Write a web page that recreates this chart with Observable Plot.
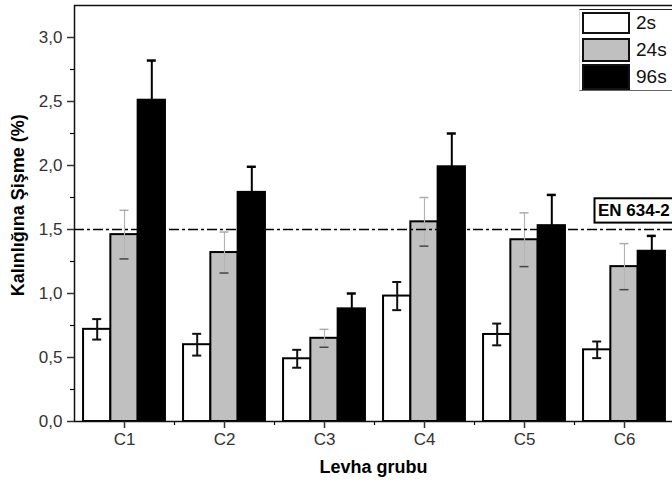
<!DOCTYPE html>
<html>
<head>
<meta charset="utf-8">
<script src="https://cdn.jsdelivr.net/npm/d3@7"></script>
<script src="https://cdn.jsdelivr.net/npm/@observablehq/plot@0.6"></script>
<style>
  html, body { margin: 0; padding: 0; background: #fff; overflow: hidden; }
  #wrap { position: relative; width: 672px; height: 488px; overflow: hidden; }
  #legend { position: absolute; left: 579px; top: 9px; width: 120px; height: 80px;
    border-top: 1px solid #222; border-left: 1px solid #ddd; border-bottom: 1px solid #666;
    font-family: "Liberation Sans", Arial, sans-serif; font-size: 19px; color: #111; }
  .row { position: absolute; left: 2px; height: 24px; display: flex; align-items: center; }
  .sw { width: 48px; border: 2px solid #111; box-sizing: border-box; margin-right: 6px; }
</style>
</head>
<body>
<div id="wrap"><div id="chart"></div><div id="legend"></div></div>
<script>
const categories = ["C1", "C2", "C3", "C4", "C5", "C6"];
const series = ["2s", "24s", "96s"];
const colors = ["#ffffff", "#c0c0c0", "#000000"];
const v2  = [0.72, 0.60, 0.49, 0.98, 0.68, 0.56];
const e2  = [0.08, 0.085, 0.07, 0.11, 0.085, 0.065];
const v24 = [1.46, 1.32, 0.65, 1.56, 1.42, 1.21];
const e24 = [0.19, 0.16, 0.07, 0.19, 0.21, 0.18];
const v96 = [2.51, 1.79, 0.88, 1.99, 1.53, 1.33];
const e96 = [0.31, 0.20, 0.12, 0.26, 0.24, 0.12];
const yTicks = [0, 0.5, 1.0, 1.5, 2.0, 2.5, 3.0];
const yMinor = [0.25, 0.75, 1.25, 1.75, 2.25, 2.75];
const refValue = 1.5;
const refLabel = "EN 634-2";
const yTitle = "Kalınlığına Şişme (%)";
const xTitle = "Levha grubu";

const values = [v2, v24, v96];
const errors = [e2, e24, e96];
const barW = 0.273;
const data = [];
series.forEach((s, k) => {
  categories.forEach((c, i) => {
    data.push({cat: c, series: s, k, pos: i + 1 + (k - 1) * barW, value: values[k][i], err: errors[k][i]});
  });
});

const fmt = d => d.toFixed(1).replace(".", ",");
const font = "Liberation Sans, Arial, sans-serif";
const cap = 0.045;

const chart = Plot.plot({
  width: 672, height: 488,
  marginLeft: 74, marginRight: 0, marginTop: 5, marginBottom: 67,
  style: {fontFamily: font, background: "white"},
  x: {type: "linear", domain: [0.5, 6.48]},
  y: {domain: [0, 3.25]},
  marks: [
    Plot.rect(data, {x1: d => d.pos - barW / 2, x2: d => d.pos + barW / 2, y1: 0, y2: "value",
      fill: d => colors[d.k], stroke: "#000", strokeWidth: 2}),
    // 2s error bars
    Plot.ruleX(data.filter(d => d.k === 0), {x: "pos", y1: d => d.value - d.err, y2: d => d.value + d.err, stroke: "#111", strokeWidth: 2}),
    Plot.ruleY(data.filter(d => d.k === 0), {y: d => d.value + d.err, x1: d => d.pos - cap, x2: d => d.pos + cap, stroke: "#111", strokeWidth: 2}),
    Plot.ruleY(data.filter(d => d.k === 0), {y: d => d.value - d.err, x1: d => d.pos - cap, x2: d => d.pos + cap, stroke: "#111", strokeWidth: 2}),
    // 24s error bars (grey, faint)
    Plot.ruleX(data.filter(d => d.k === 1), {x: "pos", y1: d => d.value - d.err, y2: d => d.value + d.err, stroke: "#b4b4b4", strokeWidth: 1.2}),
    Plot.ruleY(data.filter(d => d.k === 1), {y: d => d.value + d.err, x1: d => d.pos - cap, x2: d => d.pos + cap, stroke: "#acacac", strokeWidth: 1.5}),
    Plot.ruleY(data.filter(d => d.k === 1), {y: d => d.value - d.err, x1: d => d.pos - cap, x2: d => d.pos + cap, stroke: "#444", strokeWidth: 1.5}),
    // 96s error bars (upper only)
    Plot.ruleX(data.filter(d => d.k === 2), {x: "pos", y1: "value", y2: d => d.value + d.err, stroke: "#000", strokeWidth: 2}),
    Plot.ruleY(data.filter(d => d.k === 2), {y: d => d.value + d.err, x1: d => d.pos - cap, x2: d => d.pos + cap, stroke: "#000", strokeWidth: 2.5}),
    // reference line
    Plot.ruleY([refValue], {stroke: "#000", strokeWidth: 1.6, strokeDasharray: "10,3,3,3"}),
    Plot.rect([refLabel], {x1: 5.705, x2: 6.7, y1: refValue + 0.05, y2: refValue + 0.24, fill: "white", stroke: "#000", strokeWidth: 2}),
    Plot.text([refLabel], {x: 5.735, y: refValue + 0.145, text: d => d, textAnchor: "start", fontWeight: "bold", fontSize: 17, fill: "#000"}),
    // frame
    Plot.ruleY([0], {stroke: "#111", strokeWidth: 1.5}),
    Plot.ruleY([3.25], {stroke: "#111", strokeWidth: 1.5}),
    Plot.ruleX([0.5], {stroke: "#111", strokeWidth: 1.5}),
    // axes
    Plot.axisY({ticks: yTicks, tickFormat: fmt, tickSize: 7, tickPadding: 5, fontSize: 17, color: "#333", strokeWidth: 1.5, label: null}),
    Plot.axisY({ticks: yMinor, tickFormat: null, text: null, tickSize: 4, strokeWidth: 1.2, label: null}),
    Plot.axisX({ticks: [1, 2, 3, 4, 5, 6], tickFormat: d => categories[d - 1], tickSize: 7, tickPadding: 4, fontSize: 17, color: "#333", strokeWidth: 1.5, label: null}),
    Plot.axisX({ticks: [1.5, 2.5, 3.5, 4.5, 5.5], tickFormat: null, text: null, tickSize: 4, strokeWidth: 1.2, label: null}),
    Plot.text([yTitle], {frameAnchor: "left", y: () => 1.69, dx: -56, rotate: -90, textAnchor: "middle", text: d => d, fontWeight: "bold", fontSize: 18, fill: "#000"}),
    Plot.text([xTitle], {frameAnchor: "bottom", dy: 51, text: d => d, fontWeight: "bold", fontSize: 18, fill: "#000"})
  ]
});
document.getElementById("chart").appendChild(chart);

const legend = document.getElementById("legend");
const tops = [2, 28, 54];
const hs = [22, 24, 26];
series.forEach((s, k) => {
  const row = document.createElement("div");
  row.className = "row";
  row.style.top = tops[k] + "px";
  row.style.height = hs[k] + "px";
  row.innerHTML = `<div class="sw" style="background:${colors[k]}; height:${hs[k]}px"></div><span>${s}</span>`;
  legend.appendChild(row);
});
</script>
</body>
</html>
